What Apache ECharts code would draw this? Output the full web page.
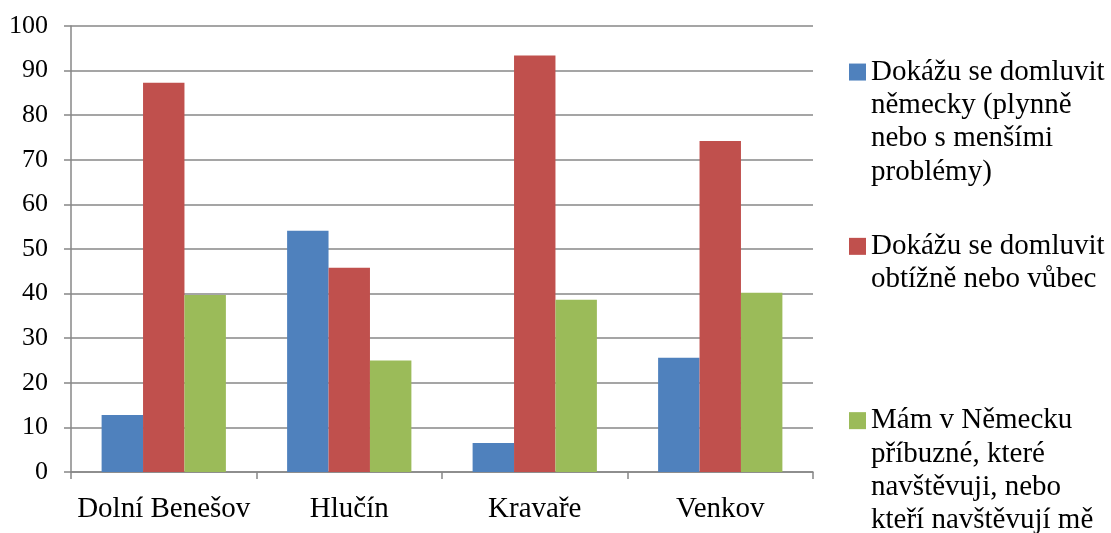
<!DOCTYPE html>
<html>
<head>
<meta charset="utf-8">
<script src="https://cdn.jsdelivr.net/npm/echarts@6/dist/echarts.min.js"></script>
<style>
html,body{margin:0;padding:0;background:#fff;}
#main{width:1111px;height:533px;}
</style>
</head>
<body>
<div id="main"></div>
<script>
const categories = ['Dolní Benešov', 'Hlučín', 'Kravaře', 'Venkov'];
const seriesNames = [
  'Dokážu se domluvit německy (plynně nebo s menšími problémy)',
  'Dokážu se domluvit obtížně nebo vůbec',
  'Mám v Německu příbuzné, které navštěvuji, nebo kteří navštěvují mě'
];
const legendLines = [
  ['Dokážu se domluvit', 'německy (plynně', 'nebo s menšími', 'problémy)'],
  ['Dokážu se domluvit', 'obtížně nebo vůbec'],
  ['Mám v Německu', 'příbuzné, které', 'navštěvuji, nebo', 'kteří navštěvují mě']
];
const speakWell = [12.8, 54.1, 6.5, 25.6];
const speakPoorly = [87.3, 45.8, 93.4, 74.2];
const relatives = [39.7, 25.0, 38.6, 40.2];
const yTicks = [0, 10, 20, 30, 40, 50, 60, 70, 80, 90, 100];

const colors = ['#4F81BD', '#C0504D', '#9BBB59'];
const font = "'Liberation Serif', 'Times New Roman', serif";

function legendText(name) {
  const idx = seriesNames.indexOf(name);
  const lines = legendLines[idx];
  // pad with leading empty lines so the icon aligns with the first text line
  const pad = new Array(lines.length - 1).fill('');
  return pad.concat(lines).join('\n');
}

const chart = echarts.init(document.getElementById('main'), null, {renderer: 'canvas'});
const values = [speakWell, speakPoorly, relatives];
chart.setOption({
  animation: false,
  color: colors,
  textStyle: {fontFamily: font},
  grid: {left: 71, right: 298, top: 26, bottom: 61, containLabel: false},
  legend: {
    orient: 'vertical',
    left: 849,
    top: -44.5,
    height: 900,
    padding: 0,
    itemGap: 7.8,
    itemWidth: 17,
    itemHeight: 17,
    icon: 'rect',
    data: seriesNames,
    formatter: legendText,
    textStyle: {fontFamily: font, fontSize: 29, lineHeight: 33.3, color: '#000'}
  },
  xAxis: {
    type: 'category',
    data: categories,
    axisLine: {show: true, lineStyle: {color: '#878787', width: 1.5}},
    axisTick: {show: true, length: 7, lineStyle: {color: '#878787', width: 1.5}},
    axisLabel: {fontFamily: font, fontSize: 29, color: '#000', margin: 23, interval: 0},
    splitLine: {show: false}
  },
  yAxis: {
    type: 'value',
    min: yTicks[0],
    max: yTicks[yTicks.length - 1],
    interval: yTicks[1] - yTicks[0],
    axisLine: {show: true, lineStyle: {color: '#878787', width: 1.5}},
    axisTick: {show: true, length: 7, lineStyle: {color: '#878787', width: 1.5}},
    axisLabel: {fontFamily: font, fontSize: 26, color: '#000', margin: 23},
    splitLine: {show: true, lineStyle: {color: '#878787', width: 1.5}}
  },
  series: seriesNames.map((n, i) => ({
    name: n,
    type: 'bar',
    data: values[i],
    barGap: '0%',
    barCategoryGap: '33%',
    itemStyle: {color: colors[i]}
  }))
});
</script>
</body>
</html>
